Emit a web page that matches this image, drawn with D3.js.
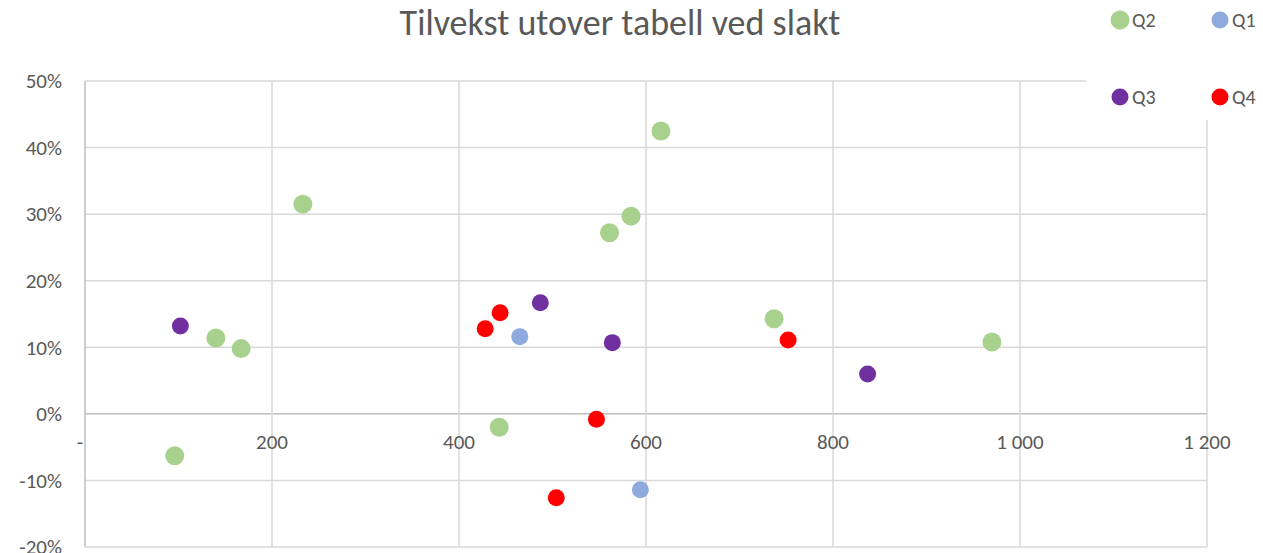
<!DOCTYPE html>
<html>
<head>
<meta charset="utf-8">
<script src="https://cdn.jsdelivr.net/npm/d3@7"></script>
<style>
  body { margin: 0; background: #fff; }
  svg { font-family: Calibri, Carlito, Lato, sans-serif; }
</style>
</head>
<body>
<svg id="myGraph" width="1263" height="553"></svg>
<script>
// data (x = volume, y = tilvekst)
var q2X = [96, 140, 167, 233, 443, 561, 584, 616, 737, 970];
var q2Y = [-0.063, 0.114, 0.098, 0.315, -0.020, 0.272, 0.297, 0.425, 0.143, 0.108];
var q1X = [465, 594];
var q1Y = [0.116, -0.114];
var q3X = [102, 487, 564, 837];
var q3Y = [0.132, 0.167, 0.107, 0.060];
var q4X = [428, 444, 504, 547, 752];
var q4Y = [0.128, 0.152, -0.126, -0.008, 0.111];

var xTicks = [0, 200, 400, 600, 800, 1000, 1200];
var yTicks = [-0.2, -0.1, 0, 0.1, 0.2, 0.3, 0.4, 0.5];

var series = [
  {name: "Q2", xs: q2X, ys: q2Y, color: "#a9d18e", r: 9.5},
  {name: "Q1", xs: q1X, ys: q1Y, color: "#8faadc", r: 8.5},
  {name: "Q3", xs: q3X, ys: q3Y, color: "#7030a0", r: 8.5},
  {name: "Q4", xs: q4X, ys: q4Y, color: "#ff0000", r: 8.5}
];

var svg = d3.select("#myGraph");
var pLeft = 85, pRight = 1207, pTop = 81, pBottom = 547;

var x = d3.scaleLinear().domain([0, 1200]).range([pLeft, pRight]);
var y = d3.scaleLinear().domain([-0.2, 0.5]).range([pBottom, pTop]);

// gridlines
svg.append("g").selectAll("line").data(yTicks).enter().append("line")
  .attr("x1", pLeft).attr("x2", pRight)
  .attr("y1", function(d){ return y(d); }).attr("y2", function(d){ return y(d); })
  .attr("stroke", function(d){ return d === 0 ? "#bfbfbf" : "#d9d9d9"; })
  .attr("stroke-width", 1.5);
svg.append("g").selectAll("line").data(xTicks).enter().append("line")
  .attr("y1", pTop).attr("y2", pBottom)
  .attr("x1", function(d){ return x(d); }).attr("x2", function(d){ return x(d); })
  .attr("stroke", function(d){ return d === 0 ? "#bfbfbf" : "#d9d9d9"; })
  .attr("stroke-width", 1.5);

// y labels
var pct = d3.format(".0%");
svg.append("g").selectAll("text").data(yTicks).enter().append("text")
  .attr("x", 62).attr("y", function(d){ return y(d); })
  .attr("dy", "0.35em")
  .attr("text-anchor", "end")
  .attr("font-size", 21)
  .attr("fill", "#595959")
  .text(function(d){ return pct(d).replace("−", "-"); });

// x labels (Norwegian thousands separator, 0 shown as "-")
svg.append("g").selectAll("text").data(xTicks).enter().append("text")
  .attr("x", function(d){ return d === 0 ? x(d) - 5 : x(d); })
  .attr("y", y(0) + 28)
  .attr("dy", "0.35em")
  .attr("text-anchor", "middle")
  .attr("font-size", 21)
  .attr("fill", "#595959")
  .text(function(d){
    if (d === 0) return "-";
    return d >= 1000 ? Math.floor(d / 1000) + " " + d3.format("03d")(d % 1000) : String(d);
  });

// points
series.forEach(function(s){
  svg.append("g").selectAll("circle").data(s.xs).enter().append("circle")
    .attr("cx", function(d){ return x(d); })
    .attr("cy", function(d, i){ return y(s.ys[i]); })
    .attr("r", s.r)
    .attr("fill", s.color);
});

// title
svg.append("text")
  .attr("x", 620).attr("y", 22)
  .attr("dy", "0.35em")
  .attr("text-anchor", "middle")
  .attr("font-size", 36)
  .attr("fill", "#595959")
  .text("Tilvekst utover tabell ved slakt");

// legend (white box over top-right corner)
svg.append("rect").attr("x", 1086).attr("y", 0).attr("width", 177).attr("height", 120).attr("fill", "#fff");
var legPos = [[1120, 20], [1220, 20], [1120, 97], [1220, 97]];
var leg = svg.append("g").selectAll("g").data(series).enter().append("g")
  .attr("transform", function(d, i){ return "translate(" + legPos[i][0] + "," + legPos[i][1] + ")"; });
leg.append("circle").attr("r", function(d){ return d.r; }).attr("fill", function(d){ return d.color; });
leg.append("text").attr("x", 12).attr("dy", "0.35em")
  .attr("font-size", 20).attr("fill", "#595959")
  .text(function(d){ return d.name; });
</script>
</body>
</html>
